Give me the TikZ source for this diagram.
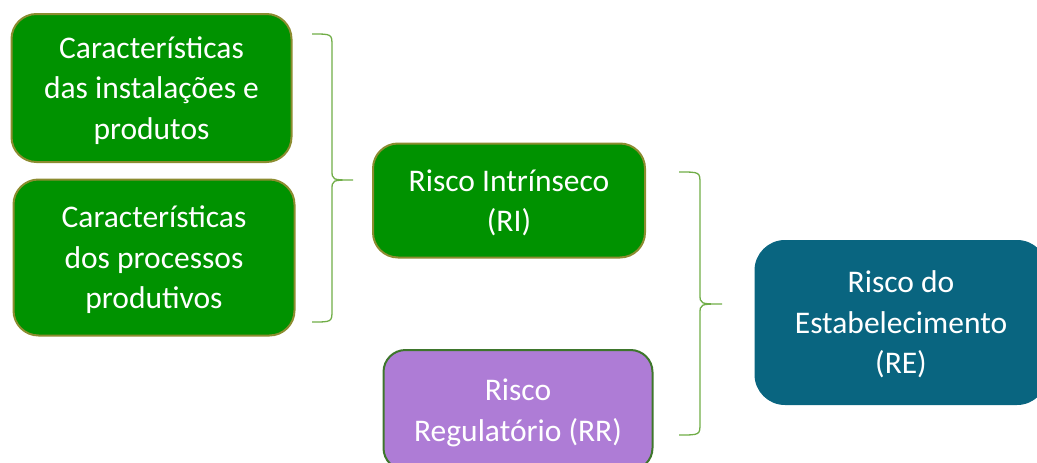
\documentclass[tikz,border=0pt]{standalone}
\usepackage{fontspec}
\setmainfont{Carlito}
\usetikzlibrary{positioning}
\definecolor{riskgreen}{RGB}{0,146,0}
\definecolor{riskolive}{RGB}{140,140,48}
\definecolor{riskviolet}{RGB}{174,124,214}
\definecolor{riskdark}{RGB}{62,118,44}
\definecolor{riskteal}{RGB}{9,101,128}
\definecolor{bracegreen}{RGB}{112,173,71}

\begin{document}
\begin{tikzpicture}[
      x=1pt, y=-1pt,
      every node/.style={font=\fontsize{31.5}{40.5}\selectfont, text=white, align=center, inner sep=0pt,
        text depth=0pt},
      factor/.style={rectangle, draw=riskolive, fill=riskgreen, line width=2pt, rounded corners=25pt},
      regulatory/.style={rectangle, draw=riskdark, fill=riskviolet, line width=2pt, rounded corners=22pt},
      result/.style={rectangle, draw=riskteal, fill=riskteal, line width=1pt, rounded corners=30pt},
      bracket/.style={draw=bracegreen, line width=1.3pt}
    ]
    \clip (0,0) rectangle (1037,463);

    % Left column: the two groups of characteristics
    \node[factor, minimum width=280pt, minimum height=148pt] (inst) at (151.5,88)
      {Características\\das instalações e\\produtos};
    \node[factor, minimum width=281pt, minimum height=156pt] (proc) at (154,257.5)
      {Características\\dos processos\\produtivos};

    % Middle column
    \node[factor, minimum width=272pt, minimum height=114pt] (ri) at (509,200.5)
      {Risco Intrínseco\\(RI)};
    \node[regulatory, minimum width=269pt, minimum height=120pt] (rr) at (518,410)
      {Risco\\Regulatório (RR)};

    % Right column, runs past the edge
    \node[result, minimum width=292pt, minimum height=164pt] (re) at (901,322.5)
      {Risco do\\Estabelecimento\\(RE)};

    % First brace: inst + proc -> ri
    \coordinate (b1top) at (312,34);
    \coordinate (b1tip) at (353,180);
    \coordinate (b1bot) at (312,322);
    \draw[bracket] (b1top) .. controls (332,34) .. (332,46) -- (332,170)
      .. controls (332,180) .. (b1tip) .. controls (332,180) .. (332,190)
      -- (332,310) .. controls (332,322) .. (b1bot);

    % Second brace: ri + rr -> re
    \coordinate (b2top) at (679,172);
    \coordinate (b2tip) at (722,304);
    \coordinate (b2bot) at (679,435);
    \draw[bracket] (b2top) .. controls (700,172) .. (700,184) -- (700,294)
      .. controls (700,304) .. (b2tip) .. controls (700,304) .. (700,314)
      -- (700,423) .. controls (700,435) .. (b2bot);

  \end{tikzpicture}
\end{document}
